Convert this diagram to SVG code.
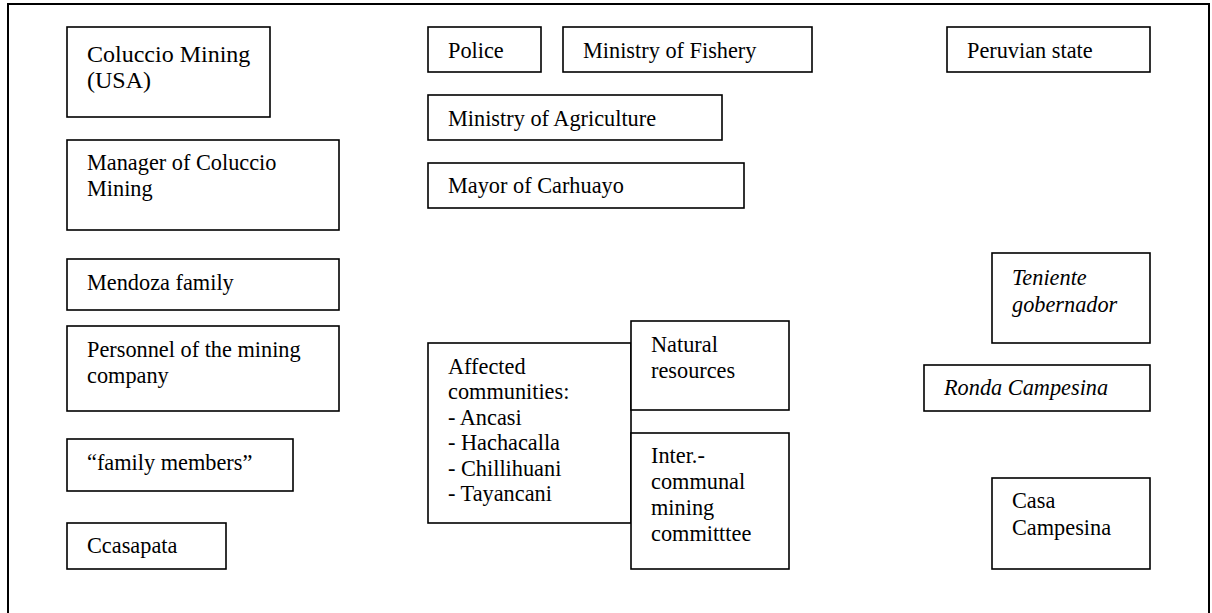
<svg xmlns="http://www.w3.org/2000/svg" width="1212" height="613" viewBox="0 0 1212 613">
  <style>
    .frame { fill: none; stroke: #000; stroke-width: 2; }
    .box { fill: #fff; stroke: #000; stroke-width: 1.6; }
    text { font-family: 'Liberation Serif', 'DejaVu Serif', serif; font-size: 22.3px; fill: #000; }
    .big { font-size: 24px; }
    .it { font-style: italic; }
  </style>
  <rect width="1212" height="613" fill="#fff"/>
  <!-- outer frame, open at the bottom edge of the canvas -->
  <rect class="frame" x="8" y="4" width="1201" height="640"/>

  <g id="connectors"/>

  <g id="coluccio-mining">
    <rect class="box" x="67" y="27" width="203" height="90"/>
    <text class="big" x="87" y="62">Coluccio Mining</text>
    <text class="big" x="87" y="88">(USA)</text>
  </g>
  <g id="manager">
    <rect class="box" x="67" y="140" width="272" height="90"/>
    <text x="87" y="170">Manager of Coluccio</text>
    <text x="87" y="196">Mining</text>
  </g>
  <g id="mendoza">
    <rect class="box" x="67" y="259" width="272" height="51"/>
    <text x="87" y="290">Mendoza family</text>
  </g>
  <g id="personnel">
    <rect class="box" x="67" y="326" width="272" height="85"/>
    <text x="87" y="357">Personnel of the mining</text>
    <text x="87" y="383">company</text>
  </g>
  <g id="family-members">
    <rect class="box" x="67" y="439" width="226" height="52"/>
    <text x="87" y="470">“family members”</text>
  </g>
  <g id="ccasapata">
    <rect class="box" x="67" y="523" width="159" height="46"/>
    <text x="87" y="553">Ccasapata</text>
  </g>

  <g id="police">
    <rect class="box" x="428" y="27" width="113" height="45"/>
    <text x="448" y="58">Police</text>
  </g>
  <g id="ministry-fishery">
    <rect class="box" x="563" y="27" width="249" height="45"/>
    <text x="583" y="58">Ministry of Fishery</text>
  </g>
  <g id="ministry-agriculture">
    <rect class="box" x="428" y="95" width="294" height="45"/>
    <text x="448" y="126">Ministry of Agriculture</text>
  </g>
  <g id="mayor">
    <rect class="box" x="428" y="163" width="316" height="45"/>
    <text x="448" y="193">Mayor of Carhuayo</text>
  </g>

  <g id="affected-communities">
    <rect class="box" x="428" y="343" width="203" height="180"/>
    <text x="448" y="374">Affected</text>
    <text x="448" y="399">communities:</text>
    <text x="448" y="425">- Ancasi</text>
    <text x="448" y="450">- Hachacalla</text>
    <text x="448" y="476">- Chillihuani</text>
    <text x="448" y="501">- Tayancani</text>
  </g>
  <g id="natural-resources">
    <rect class="box" x="631" y="321" width="158" height="89"/>
    <text x="651" y="352">Natural</text>
    <text x="651" y="378">resources</text>
  </g>
  <g id="mining-committee">
    <rect class="box" x="631" y="433" width="158" height="136"/>
    <text x="651" y="463">Inter.-</text>
    <text x="651" y="489">communal</text>
    <text x="651" y="515">mining</text>
    <text x="651" y="541">committtee</text>
  </g>

  <g id="peruvian-state">
    <rect class="box" x="947" y="27" width="203" height="45"/>
    <text x="967" y="58">Peruvian state</text>
  </g>
  <g id="teniente-gobernador">
    <rect class="box" x="992" y="253" width="158" height="90"/>
    <text class="it" x="1012" y="285">Teniente</text>
    <text class="it" x="1012" y="312">gobernador</text>
  </g>
  <g id="ronda-campesina">
    <rect class="box" x="924" y="365" width="226" height="46"/>
    <text class="it" x="944" y="395">Ronda Campesina</text>
  </g>
  <g id="casa-campesina">
    <rect class="box" x="992" y="478" width="158" height="91"/>
    <text x="1012" y="508">Casa</text>
    <text x="1012" y="535">Campesina</text>
  </g>
</svg>
